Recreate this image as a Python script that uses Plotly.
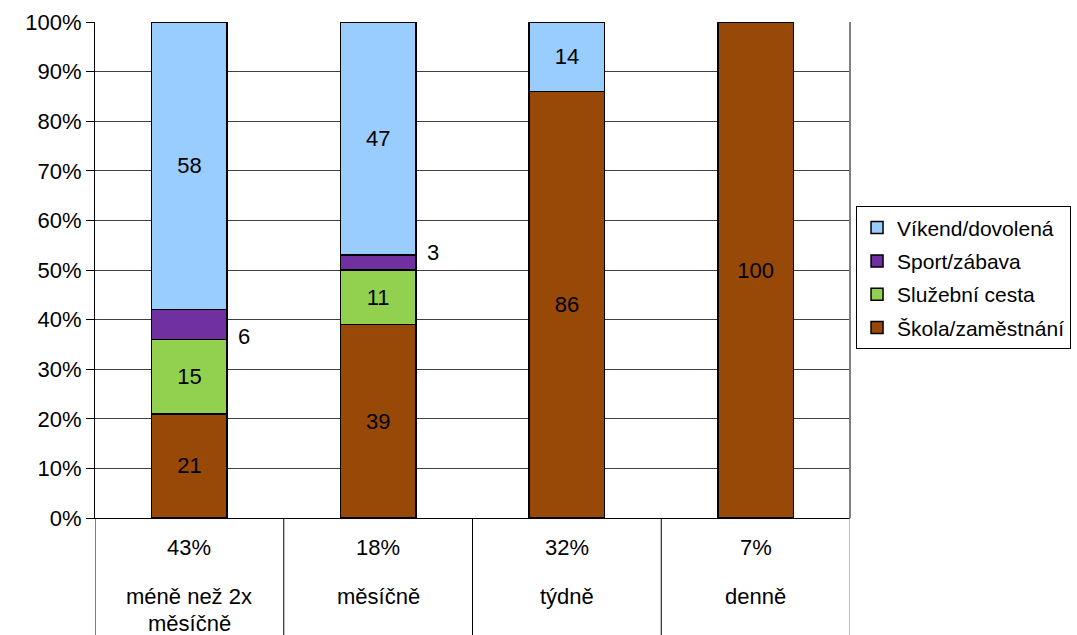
import plotly.graph_objects as go

categories = ["méně než 2x měsíčně", "měsíčně", "týdně", "denně"]
cat_share = ["43%", "18%", "32%", "7%"]
cat_line1 = ["méně než 2x", "měsíčně", "týdně", "denně"]
cat_line2 = ["měsíčně", "", "", ""]

skola = [21, 39, 86, 100]
sluzebni = [15, 11, 0, 0]
sport = [6, 3, 0, 0]
vikend = [58, 47, 14, 0]

# (name, values, colour, legend rank, label inside?)
series = [
    ("Škola/zaměstnání", skola, "#984807", 4, True),
    ("Služební cesta", sluzebni, "#92D050", 3, True),
    ("Sport/zábava", sport, "#7030A0", 2, False),
    ("Víkend/dovolená", vikend, "#99CCFF", 1, True),
]

FONT = "Liberation Sans, Arial, sans-serif"
FS = 22
x_idx = list(range(len(categories)))

fig = go.Figure()
for name, vals, col, rank, inside in series:
    texts = [str(v) if (inside and v > 0) else "" for v in vals]
    fig.add_trace(go.Bar(
        x=x_idx, y=vals, name=name, legendgroup=name, legendrank=rank,
        marker=dict(color=col, line=dict(color="#000000", width=1.5)),
        width=0.4, text=texts, textposition="inside",
        insidetextanchor="middle", textangle=0,
        textfont=dict(family=FONT, size=FS, color="#000000"),
        hoverinfo="skip",
    ))

annotations = []
# outside labels for the small sport segments
sport_yshift = [-12, 10, 0, 0]
for i in x_idx:
    if sport[i] > 0:
        base = skola[i] + sluzebni[i]
        annotations.append(dict(
            x=i + 0.2, y=base + sport[i] / 2, xref="x", yref="y",
            text=str(sport[i]), showarrow=False, xanchor="left",
            xshift=9, yshift=sport_yshift[i],
            font=dict(family=FONT, size=FS, color="#000000"),
        ))

# category labels below the axis
for i in x_idx:
    annotations.append(dict(x=i, y=-0.06, xref="x", yref="paper", text=cat_share[i],
                            showarrow=False, yanchor="middle",
                            font=dict(family=FONT, size=FS, color="#000000")))
    annotations.append(dict(x=i, y=-0.159, xref="x", yref="paper", text=cat_line1[i],
                            showarrow=False, yanchor="middle",
                            font=dict(family=FONT, size=FS, color="#000000")))
    if cat_line2[i]:
        annotations.append(dict(x=i, y=-0.213, xref="x", yref="paper", text=cat_line2[i],
                                showarrow=False, yanchor="middle",
                                font=dict(family=FONT, size=FS, color="#000000")))

shapes = []
for k in range(len(categories) + 1):
    xb = k - 0.5
    shapes.append(dict(type="line", xref="x", yref="paper", x0=xb, x1=xb, y0=0, y1=-0.24,
                       line=dict(color="#000000" if k < len(categories) else "#808080", width=1)))
# right border of plot area
shapes.append(dict(type="line", xref="paper", yref="paper", x0=1, x1=1, y0=0, y1=1,
                   line=dict(color="#808080", width=2)))

fig.update_layout(
    width=1077, height=635,
    margin=dict(l=95, r=227, t=22, b=117, autoexpand=False),
    barmode="stack",
    plot_bgcolor="#FFFFFF", paper_bgcolor="#FFFFFF",
    font=dict(family=FONT, size=FS, color="#000000"),
    showlegend=True,
    legend=dict(
        x=1.008, xanchor="left", y=0.484, yanchor="middle",
        traceorder="grouped", tracegroupgap=3,
        bordercolor="#000000", borderwidth=1, bgcolor="#FFFFFF",
        font=dict(family=FONT, size=21, color="#000000"),
        itemwidth=30,
    ),
    xaxis=dict(
        range=[-0.5, 3.5], tickvals=x_idx, showticklabels=False, ticks="",
        showline=True, linecolor="#000000", linewidth=1, showgrid=False, zeroline=False,
        fixedrange=True,
    ),
    yaxis=dict(
        range=[0, 100], tickvals=list(range(0, 101, 10)),
        ticktext=[f"{v}%" for v in range(0, 101, 10)],
        showgrid=True, gridcolor="#404040", gridwidth=1,
        showline=True, linecolor="#000000", linewidth=1,
        ticks="outside", ticklen=8, tickcolor="#000000",
        tickfont=dict(family=FONT, size=FS, color="#000000"),
        zeroline=False, fixedrange=True,
    ),
    annotations=annotations,
    shapes=shapes,
)

fig.write_html("out.html")
